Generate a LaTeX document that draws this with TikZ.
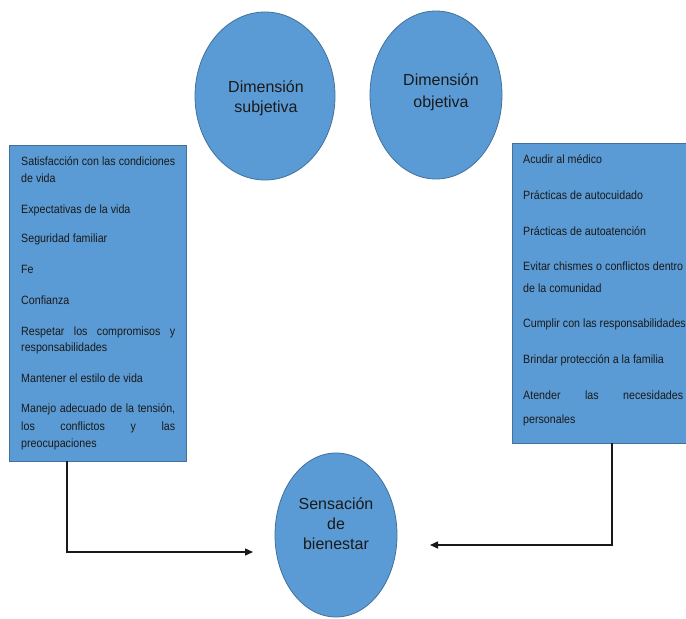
\documentclass[tikz,border=0pt]{standalone}
\usepackage{fontspec}
\setmainfont{Liberation Sans}
\newfontfamily\boxfnt[FakeStretch=0.89]{Liberation Sans}
\usetikzlibrary{shapes.geometric,arrows.meta}
\definecolor{fillblue}{HTML}{5B9BD5}
\definecolor{edgeblue}{HTML}{41719C}
\definecolor{txtcol}{HTML}{1A1A1A}
\newlength{\lwd}\setlength{\lwd}{154pt}
\newlength{\rwd}\setlength{\rwd}{160pt}
\newcommand{\jlL}[1]{\makebox[\lwd][s]{#1}}
\newcommand{\jlR}[1]{\makebox[\rwd][s]{#1}}
\begin{document}
\begin{tikzpicture}[x=1pt,y=-1pt,
 bubble/.style={ellipse,draw=edgeblue,fill=fillblue,line width=0.8pt,inner sep=0pt},
 listbox/.style={rectangle,draw=edgeblue,fill=fillblue,line width=0.8pt,inner sep=0pt,anchor=north west},
 bubtext/.style={font=\fontsize{16}{20}\selectfont,text=txtcol,align=center,inner sep=0pt},
 ltext/.style={font=\boxfnt\fontsize{12}{14}\selectfont,text=txtcol,anchor=base west,inner sep=0pt},
 arr/.style={draw=black!90,line width=1.4pt,-{Triangle[length=8pt,width=7pt]}}]
\useasboundingbox (0,0) rectangle (686,619);
\fill[white] (0,0) rectangle (686,619);
\clip (0,0) rectangle (686,619);

% circles
\node[bubble,minimum width=140pt,minimum height=168pt] (subj) at (265,96) {};
\node[bubtext] (subjt) at (266,98) {Dimensión\\subjetiva};
\node[bubble,minimum width=132pt,minimum height=168pt] (obj) at (436,95) {};
\node[bubtext,font=\fontsize{16}{22}\selectfont] (objt) at (441,92) {Dimensión\\objetiva};
\node[bubble,minimum width=122pt,minimum height=164pt] (sens) at (336,535) {};
\node[bubtext] (senst) at (336,524) {Sensación\\de\\bienestar};

% boxes
\node[listbox,minimum width=177pt,minimum height=316pt] (lbox) at (9,145) {};
\node[listbox,minimum width=200pt,minimum height=300pt] (rbox) at (512,143) {};

% left box text
\node[ltext] (l1) at (21,165) {\jlL{Satisfacción con las condiciones}};
\node[ltext] (l2) at (21,182) {de vida};
\node[ltext] (l3) at (21,213) {Expectativas de la vida};
\node[ltext] (l4) at (21,242) {Seguridad familiar};
\node[ltext] (l5) at (21,273) {Fe};
\node[ltext] (l6) at (21,304) {Confianza};
\node[ltext] (l7) at (21,335) {\jlL{Respetar los compromisos y}};
\node[ltext] (l8) at (21,351) {responsabilidades};
\node[ltext] (l9) at (21,382) {Mantener el estilo de vida};
\node[ltext] (l10) at (21,412) {\jlL{Manejo adecuado de la tensión,}};
\node[ltext] (l11) at (21,430) {\jlL{los conflictos y las}};
\node[ltext] (l12) at (21,447) {preocupaciones};

% right box text
\node[ltext] (r1) at (523,163) {Acudir al médico};
\node[ltext] (r2) at (523,199) {Prácticas de autocuidado};
\node[ltext] (r3) at (523,235) {Prácticas de autoatención};
\node[ltext] (r4) at (523,270) {\jlR{Evitar chismes o conflictos dentro}};
\node[ltext] (r5) at (523,292) {de la comunidad};
\node[ltext] (r6) at (523,327) {Cumplir con las responsabilidades};
\node[ltext] (r7) at (523,363) {Brindar protección a la familia};
\node[ltext] (r8) at (523,399) {\jlR{Atender las necesidades}};
\node[ltext] (r9) at (523,423) {personales};

% connectors
\coordinate (ls) at (67,461);
\coordinate (le) at (253,552);
\coordinate (rs) at (612,443);
\coordinate (re) at (430,545);
\draw[arr] (ls) |- (le);
\draw[arr] (rs) |- (re);
\end{tikzpicture}
\end{document}
